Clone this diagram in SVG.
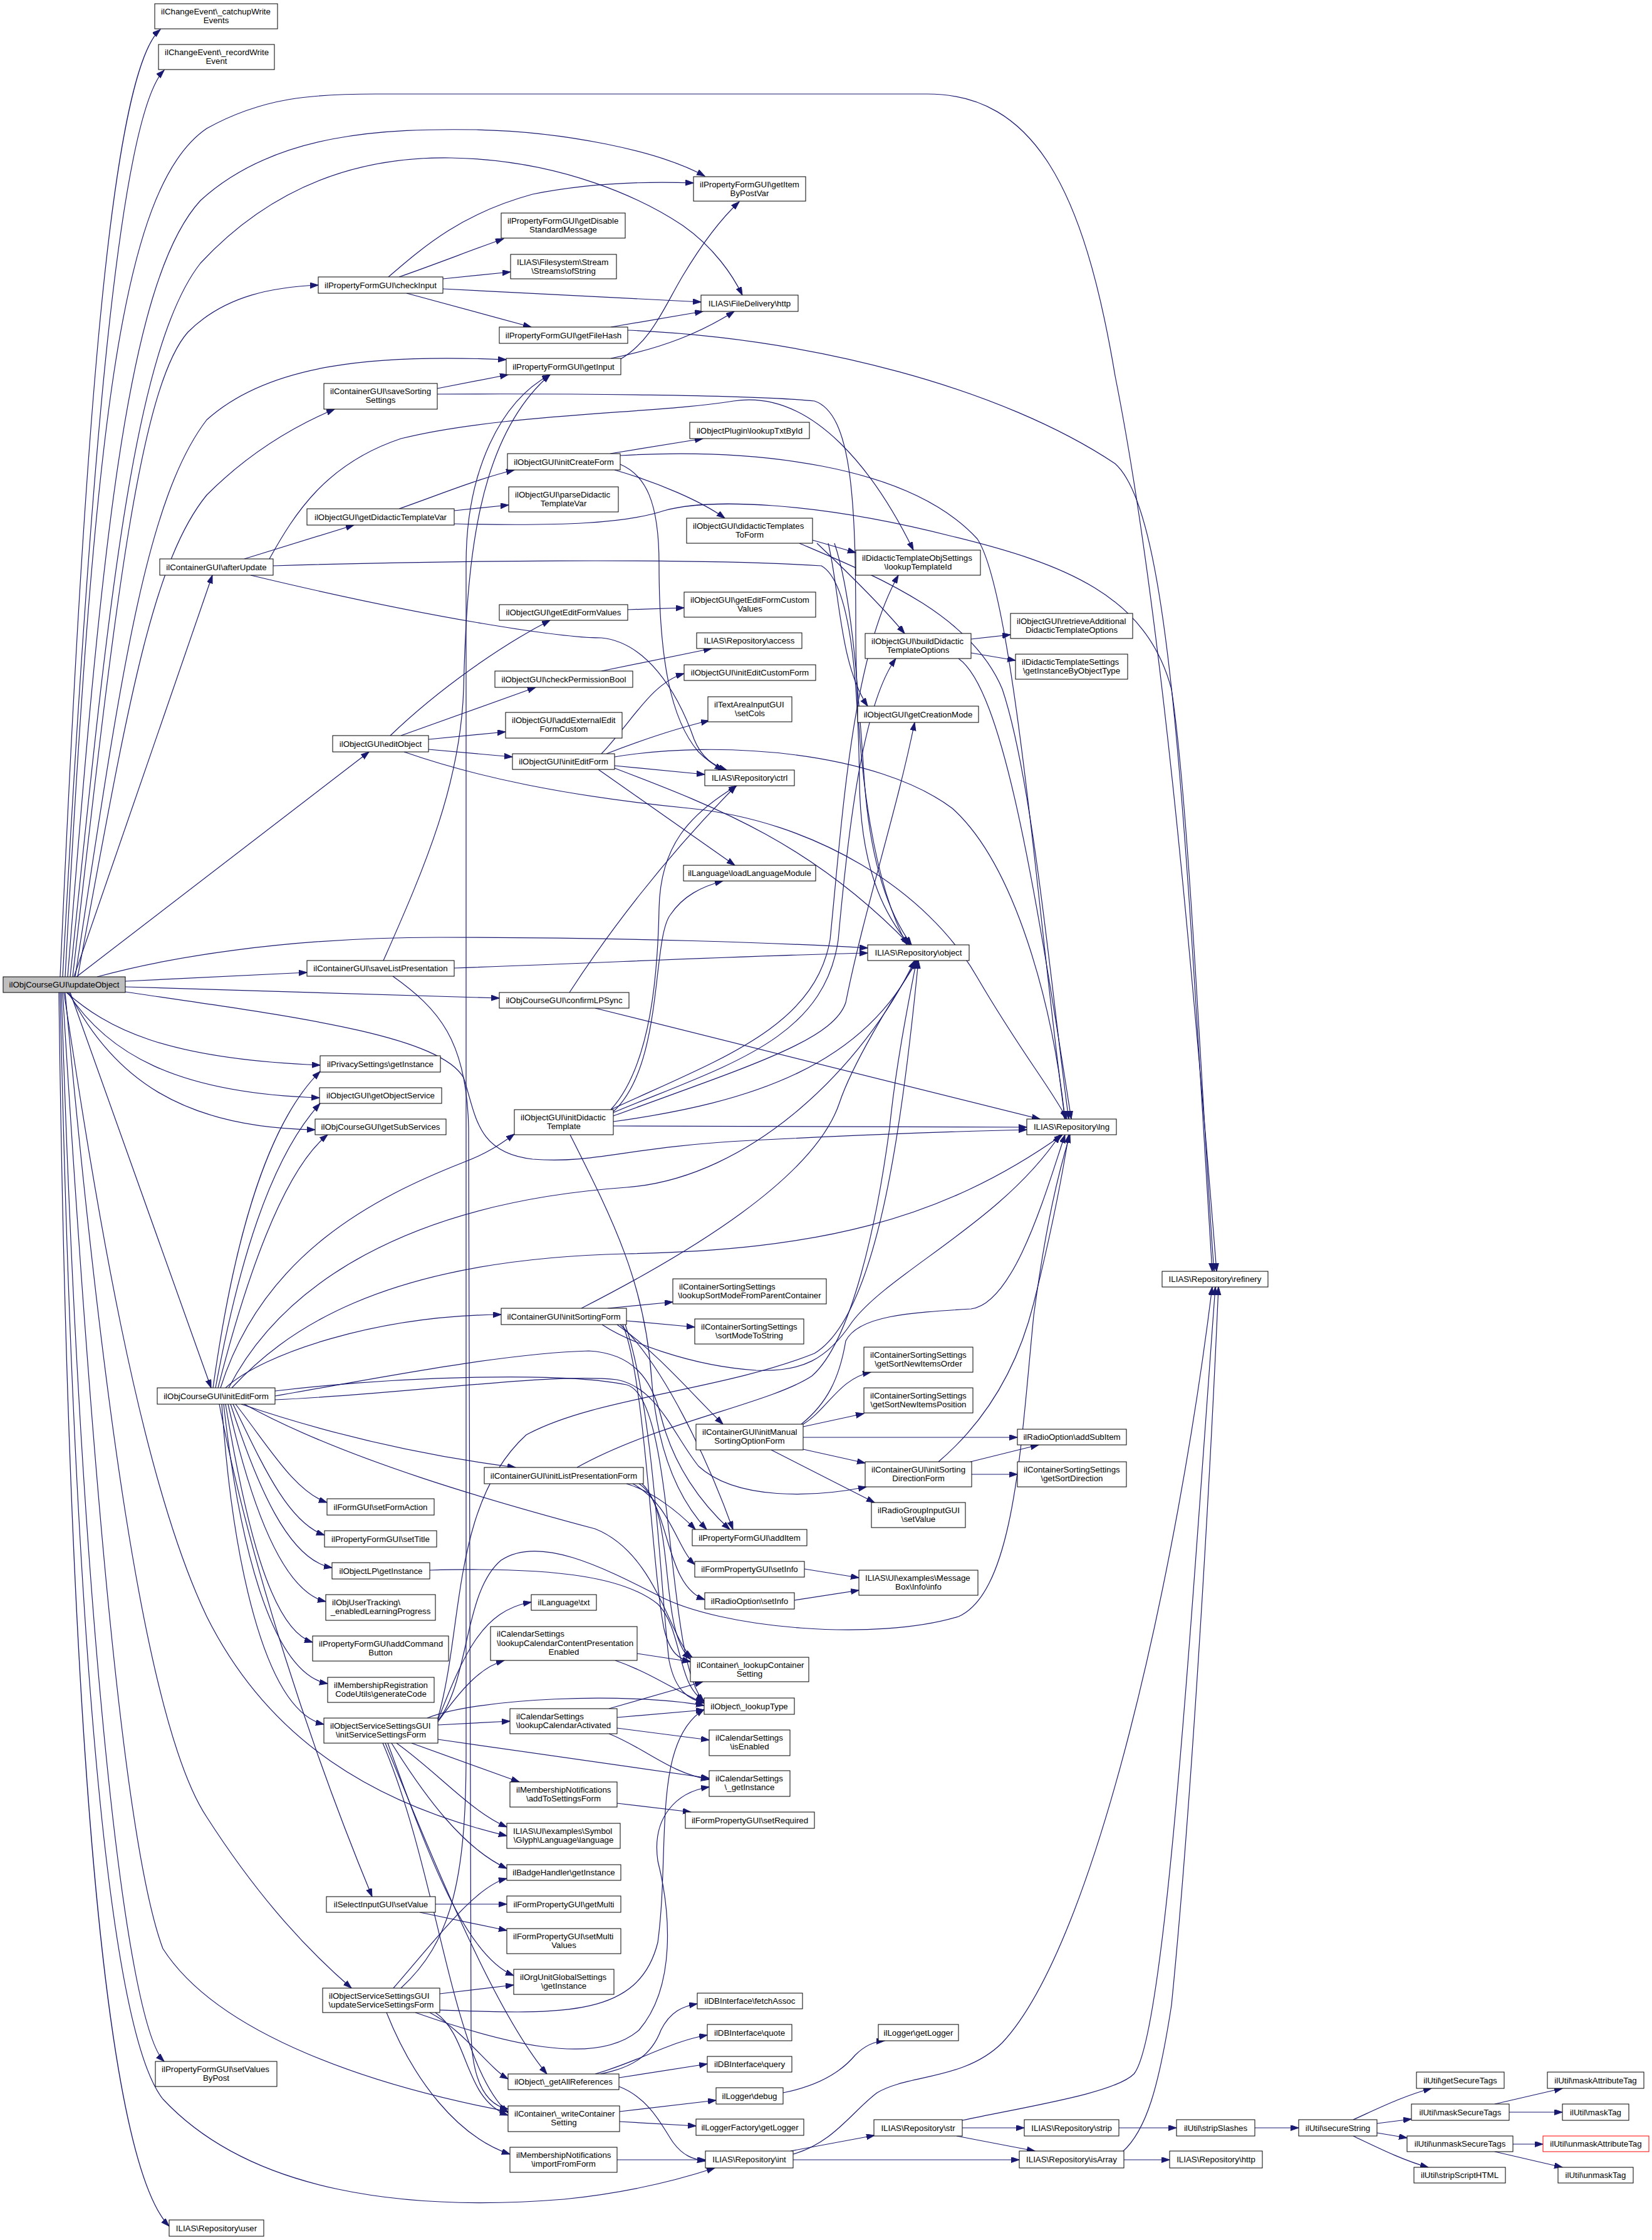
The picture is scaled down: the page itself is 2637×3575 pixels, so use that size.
<svg xmlns="http://www.w3.org/2000/svg" width="2637" height="3575" viewBox="0 0 2637 3575">
<style>
.n rect{fill:#fff;stroke:#000;stroke-width:1}
text{font-family:"Liberation Sans",Arial,Helvetica,sans-serif;font-size:13.3px;fill:#000}
.c{text-anchor:middle}
.l{text-anchor:start}
.e path{fill:none;stroke:#191970;stroke-width:1.2;marker-end:url(#a)}
</style>
<defs>
<marker id="a" markerWidth="14" markerHeight="10" refX="13" refY="4.5" orient="auto" markerUnits="userSpaceOnUse"><path d="M0,0 L13,4.5 L0,9 z" fill="#191970" stroke="#191970" stroke-width="1"/></marker>
</defs>
<rect x="0" y="0" width="2637" height="3575" fill="#fff"/>
<g id="edges" class="e">
<path d="M 96,1559 C 130,800 170,120 256,47"/>
<path d="M 100,1559 C 140,820 185,190 262,112"/>
<path d="M 104,1559 C 150,700 190,300 330,205 C 420,155 500,150 600,150 L 1480,150 C 1650,150 1730,300 1780,600 C 1850,950 1900,1500 1942,2029"/>
<path d="M 108,1559 C 160,900 200,450 320,320 C 440,210 620,205 760,207 C 900,210 1050,240 1125,281"/>
<path d="M 112,1559 C 170,1000 210,560 320,420 C 450,280 600,250 720,252 C 900,255 1030,320 1090,360 C 1140,395 1170,440 1185,471"/>
<path d="M 116,1559 C 180,1000 220,620 300,530 C 360,470 440,458 508,455"/>
<path d="M 120,1559 C 190,1100 230,800 330,670 C 430,580 600,565 808,574"/>
<path d="M 124,1559 C 200,1150 240,900 330,790 C 400,720 470,680 534,653"/>
<path d="M 118,1559 L 339,918"/>
<path d="M 122,1559 L 589,1200"/>
<path d="M 155,1559 C 260,1530 450,1496 700,1496 C 1000,1496 1250,1505 1385,1513"/>
<path d="M 200,1566 L 490,1552"/>
<path d="M 200,1575 L 797,1593"/>
<path d="M 200,1583 C 450,1620 700,1650 740,1720 C 760,1780 760,1840 850,1850 C 950,1858 1000,1830 1200,1820 C 1400,1810 1550,1805 1639,1803"/>
<path d="M 106,1584 C 170,1640 260,1690 511,1700"/>
<path d="M 108,1584 C 170,1680 280,1745 510,1752"/>
<path d="M 110,1584 C 180,1720 290,1800 503,1803"/>
<path d="M 112,1584 L 337,2215"/>
<path d="M 102,1584 C 150,1900 220,2350 330,2580 C 430,2780 600,2880 809,2930"/>
<path d="M 104,1584 C 160,2200 230,2750 330,2900 C 420,3040 500,3120 561,3173"/>
<path d="M 100,1584 C 150,2400 200,2950 260,3110 C 350,3250 600,3330 811,3370"/>
<path d="M 98,1584 C 130,2600 200,3230 262,3290"/>
<path d="M 96,1584 C 120,2700 180,3250 260,3350 C 400,3500 650,3530 900,3510 C 1000,3500 1080,3480 1141,3460"/>
<path d="M 94,1584 C 110,2800 170,3450 270,3553"/>
<path d="M 390,892 L 565,838"/>
<path d="M 430,892 C 470,820 520,740 640,700 C 800,660 1050,660 1171,640 C 1300,620 1400,760 1458,878"/>
<path d="M 436,903 C 700,895 1100,890 1311,903 C 1360,930 1370,1100 1372,1250 C 1374,1400 1420,1470 1452,1508"/>
<path d="M 400,918 C 700,990 900,1018 960,1018 C 1030,1025 1080,1100 1108,1180 C 1120,1210 1140,1222 1160,1229"/>
<path d="M 698,620 L 811,598"/>
<path d="M 698,629 C 900,628 1200,630 1300,640 C 1360,660 1366,800 1366,1000 C 1366,1250 1400,1420 1448,1508"/>
<path d="M 620,442 C 680,390 740,340 850,310 C 950,290 1050,290 1107,292"/>
<path d="M 637,442 C 700,420 750,400 804,381"/>
<path d="M 707,445 L 815,434"/>
<path d="M 707,461 L 1119,482"/>
<path d="M 649,468 L 848,522"/>
<path d="M 975,522 L 1122,497"/>
<path d="M 1002,527 C 1300,540 1600,620 1780,740 C 1870,820 1890,1300 1935,2029"/>
<path d="M 989,574 C 1040,545 1060,490 1090,440 C 1120,390 1150,350 1180,322"/>
<path d="M 975,572 C 1060,555 1120,530 1172,497"/>
<path d="M 637,812 C 700,790 760,765 821,750"/>
<path d="M 725,815 L 812,806"/>
<path d="M 725,836 C 900,840 1000,835 1060,815 C 1130,795 1300,800 1520,856 C 1700,900 1830,950 1870,1100 C 1900,1300 1920,1800 1938,2029"/>
<path d="M 974,724 L 1122,700"/>
<path d="M 981,750 C 1050,770 1120,800 1157,827"/>
<path d="M 990,727 C 1200,715 1450,740 1560,860 C 1620,950 1660,1500 1700,1786"/>
<path d="M 990,741 C 1030,758 1052,800 1052,900 C 1052,1050 1070,1148 1115,1200 C 1130,1215 1145,1224 1154,1229"/>
<path d="M 1297,862 L 1366,882"/>
<path d="M 1304,867 C 1360,920 1410,970 1444,1011"/>
<path d="M 1322,867 C 1340,940 1340,1060 1385,1127"/>
<path d="M 1332,867 C 1360,950 1370,1100 1380,1250 C 1390,1380 1420,1460 1455,1508"/>
<path d="M 1276,867 C 1400,920 1550,980 1600,1100 C 1650,1250 1680,1600 1706,1786"/>
<path d="M 1550,1020 L 1613,1013"/>
<path d="M 1550,1042 L 1621,1054"/>
<path d="M 1530,1051 C 1600,1100 1650,1400 1710,1786"/>
<path d="M 1002,973 L 1092,970"/>
<path d="M 960,1071 L 1136,1035"/>
<path d="M 623,1174 C 700,1100 800,1030 878,990"/>
<path d="M 640,1174 L 855,1097"/>
<path d="M 684,1180 L 807,1168"/>
<path d="M 684,1196 L 818,1208"/>
<path d="M 645,1200 C 760,1240 900,1270 1100,1290 C 1300,1310 1480,1420 1560,1560 C 1630,1680 1680,1740 1703,1786"/>
<path d="M 960,1203 C 1010,1150 1040,1090 1092,1075"/>
<path d="M 968,1203 C 1040,1175 1090,1160 1132,1150"/>
<path d="M 981,1222 L 1125,1236"/>
<path d="M 955,1228 L 1173,1381"/>
<path d="M 981,1226 C 1150,1290 1300,1350 1452,1508"/>
<path d="M 981,1208 C 1150,1180 1400,1200 1520,1290 C 1620,1380 1680,1600 1700,1786"/>
<path d="M 612,1533 C 680,1380 735,1250 740,1100 C 745,900 760,700 878,598"/>
<path d="M 725,1545 C 1000,1535 1200,1525 1385,1521"/>
<path d="M 627,1558 C 700,1610 745,1660 748,1800 L 752,3250 C 755,3330 780,3360 811,3366"/>
<path d="M 909,1584 C 970,1490 1060,1370 1175,1254"/>
<path d="M 950,1609 L 1660,1786"/>
<path d="M 975,1771 C 1150,1690 1300,1640 1325,1500 C 1345,1300 1360,1050 1434,918"/>
<path d="M 978,1776 C 1160,1700 1315,1660 1338,1500 C 1356,1300 1380,1120 1430,1051"/>
<path d="M 979,1781 C 1200,1700 1330,1660 1350,1600 C 1380,1450 1430,1300 1460,1153"/>
<path d="M 979,1790 C 1200,1760 1380,1700 1462,1533"/>
<path d="M 979,1797 L 1639,1799"/>
<path d="M 975,1771 C 1040,1700 1050,1550 1052,1450 C 1054,1350 1100,1300 1176,1254"/>
<path d="M 979,1774 C 1060,1700 1040,1500 1070,1460 C 1090,1430 1120,1415 1154,1406"/>
<path d="M 910,1811 C 980,1950 1030,2050 1040,2200 C 1050,2330 1090,2400 1128,2441"/>
<path d="M 340,2215 C 370,2000 420,1800 511,1710"/>
<path d="M 344,2215 C 380,2020 430,1850 511,1761"/>
<path d="M 348,2215 C 390,2050 450,1870 523,1811"/>
<path d="M 352,2215 C 420,2000 600,1910 740,1855 C 780,1840 800,1825 821,1810"/>
<path d="M 360,2215 C 420,2160 600,2100 800,2098"/>
<path d="M 370,2215 C 450,2130 600,2010 1000,2001 C 1300,1995 1500,1950 1696,1811"/>
<path d="M 365,2215 C 450,2050 650,1920 1000,1895 C 1200,1880 1380,1700 1460,1533"/>
<path d="M 385,2241 C 500,2280 650,2320 823,2342"/>
<path d="M 376,2241 C 430,2310 470,2380 522,2398"/>
<path d="M 372,2241 C 420,2340 460,2430 518,2450"/>
<path d="M 368,2241 C 410,2370 460,2490 530,2502"/>
<path d="M 364,2241 C 400,2400 450,2540 520,2556"/>
<path d="M 360,2241 C 390,2420 430,2600 499,2621"/>
<path d="M 357,2241 C 380,2450 430,2670 523,2687"/>
<path d="M 354,2241 C 370,2480 420,2730 517,2752"/>
<path d="M 350,2241 C 400,2500 500,2800 594,3027"/>
<path d="M 439,2228 C 600,2200 800,2160 940,2156 C 1010,2160 1040,2200 1055,2260 C 1075,2340 1120,2400 1165,2441"/>
<path d="M 390,2241 C 550,2330 800,2400 950,2440 C 1050,2480 1070,2620 1105,2645"/>
<path d="M 439,2220 C 650,2195 900,2190 1000,2210 C 1080,2230 1060,2650 1124,2716"/>
<path d="M 439,2234 C 650,2225 880,2190 985,2202 C 1050,2215 1075,2290 1115,2340 C 1175,2395 1300,2390 1383,2373"/>
<path d="M 970,2088 L 1074,2078"/>
<path d="M 1000,2108 L 1109,2118"/>
<path d="M 985,2114 C 1050,2160 1100,2220 1154,2273"/>
<path d="M 990,2114 C 1060,2180 1130,2330 1170,2441"/>
<path d="M 928,2088 C 1100,2000 1300,1880 1340,1760 C 1360,1700 1420,1600 1465,1533"/>
<path d="M 961,2114 C 1000,2140 1100,2180 1207,2187 C 1280,2190 1320,2170 1360,2110 C 1420,2030 1600,1950 1692,1811"/>
<path d="M 994,2114 C 1030,2200 1040,2500 1060,2600 C 1070,2640 1085,2648 1102,2652"/>
<path d="M 998,2114 C 1045,2250 1055,2550 1068,2650 C 1078,2700 1100,2712 1124,2718"/>
<path d="M 1282,2273 C 1320,2250 1340,2200 1390,2190"/>
<path d="M 1282,2277 L 1379,2256"/>
<path d="M 1282,2294 L 1624,2294"/>
<path d="M 1282,2313 L 1381,2335"/>
<path d="M 1231,2314 L 1396,2398"/>
<path d="M 1279,2273 C 1320,2240 1340,2200 1350,2140 C 1370,2100 1450,2095 1550,2089 C 1620,2080 1670,1900 1700,1811"/>
<path d="M 1549,2333 L 1658,2306"/>
<path d="M 1551,2353 L 1624,2353"/>
<path d="M 1498,2333 C 1560,2280 1620,2200 1650,2080 C 1680,1960 1695,1880 1706,1811"/>
<path d="M 1000,2368 C 1040,2380 1080,2410 1110,2441"/>
<path d="M 1010,2368 C 1070,2400 1080,2470 1109,2497"/>
<path d="M 1020,2368 C 1070,2400 1060,2530 1125,2553"/>
<path d="M 1025,2368 C 1080,2420 1050,2600 1102,2648"/>
<path d="M 921,2342 C 1050,2270 1230,2240 1296,2196 C 1360,2140 1400,1950 1420,1800 C 1430,1700 1450,1600 1463,1533"/>
<path d="M 1284,2504 L 1371,2518"/>
<path d="M 1268,2554 L 1371,2538"/>
<path d="M 699,2745 C 740,2640 770,2570 848,2557"/>
<path d="M 699,2748 C 740,2690 770,2660 805,2650"/>
<path d="M 699,2753 L 814,2747"/>
<path d="M 657,2782 L 829,2844"/>
<path d="M 633,2782 C 700,2830 750,2890 809,2916"/>
<path d="M 625,2782 C 680,2870 740,2950 809,2982"/>
<path d="M 619,2782 C 680,2950 740,3120 820,3153"/>
<path d="M 615,2782 C 700,2990 790,3210 873,3310"/>
<path d="M 611,2782 C 700,2990 720,3290 811,3372"/>
<path d="M 682,2742 C 760,2710 1000,2700 1124,2722"/>
<path d="M 699,2776 L 1132,2838"/>
<path d="M 700,2745 C 750,2680 740,2540 800,2490 C 860,2450 960,2500 1050,2546 C 1150,2600 1400,2620 1530,2580 C 1620,2540 1630,2300 1650,2100 C 1670,1950 1690,1870 1708,1811"/>
<path d="M 699,2742 C 740,2600 720,2400 840,2290 C 950,2230 1150,2220 1300,2160 C 1400,2100 1440,1800 1466,1533"/>
<path d="M 628,3173 C 700,3090 760,3010 809,2998"/>
<path d="M 640,3173 C 720,3100 744,3000 744,2800 L 744,900 C 744,750 800,640 878,598"/>
<path d="M 702,3182 L 820,3168"/>
<path d="M 686,3212 C 740,3240 780,3300 811,3318"/>
<path d="M 695,3212 C 750,3250 740,3350 811,3376"/>
<path d="M 617,3212 C 660,3320 730,3410 814,3438"/>
<path d="M 702,3208 C 900,3215 1020,3220 1050,3100 C 1070,2950 1040,2780 1124,2728"/>
<path d="M 663,3212 C 800,3260 950,3300 1020,3240 C 1080,3170 1070,3050 1050,2970 C 1040,2900 1080,2860 1132,2852"/>
<path d="M 686,2506 C 900,2500 1000,2520 1050,2560 C 1090,2600 1080,2690 1124,2714"/>
<path d="M 1017,2639 L 1102,2652"/>
<path d="M 982,2650 C 1040,2670 1080,2700 1124,2718"/>
<path d="M 972,2727 L 1122,2684"/>
<path d="M 985,2741 L 1124,2729"/>
<path d="M 985,2758 L 1132,2777"/>
<path d="M 972,2767 C 1030,2790 1070,2830 1132,2840"/>
<path d="M 985,2878 L 1103,2892"/>
<path d="M 695,3039 L 809,3039"/>
<path d="M 670,3052 L 809,3081"/>
<path d="M 958,3310 C 1010,3300 1040,3280 1055,3240 C 1070,3210 1090,3202 1113,3198"/>
<path d="M 950,3310 C 1020,3290 1070,3258 1129,3248"/>
<path d="M 988,3316 L 1129,3294"/>
<path d="M 988,3330 C 1040,3350 1060,3400 1075,3420 C 1090,3440 1105,3446 1126,3449"/>
<path d="M 989,3370 L 1143,3352"/>
<path d="M 989,3386 L 1111,3393"/>
<path d="M 985,3447 L 1126,3447"/>
<path d="M 1250,3340 C 1300,3330 1340,3310 1365,3280 C 1380,3265 1395,3258 1412,3257"/>
<path d="M 1262,3433 L 1396,3408"/>
<path d="M 1266,3447 L 1627,3447"/>
<path d="M 1266,3438 C 1330,3420 1360,3370 1400,3340 C 1450,3310 1540,3320 1600,3260 C 1750,3100 1880,2500 1935,2054"/>
<path d="M 1536,3396 L 1635,3396"/>
<path d="M 1527,3409 L 1652,3433"/>
<path d="M 1536,3384 C 1650,3360 1780,3340 1810,3310 C 1860,3250 1900,2600 1940,2054"/>
<path d="M 1794,3447 L 1867,3447"/>
<path d="M 1792,3434 C 1830,3400 1850,3330 1870,3200 C 1900,2900 1930,2400 1945,2054"/>
<path d="M 1786,3396 L 1878,3396"/>
<path d="M 2003,3396 L 2073,3396"/>
<path d="M 2160,3383 C 2200,3365 2240,3345 2285,3333"/>
<path d="M 2198,3389 L 2253,3382"/>
<path d="M 2198,3404 L 2246,3412"/>
<path d="M 2160,3409 C 2200,3428 2240,3448 2280,3459"/>
<path d="M 2386,3358 L 2494,3333"/>
<path d="M 2409,3371 L 2494,3371"/>
<path d="M 2415,3422 L 2463,3422"/>
<path d="M 2386,3434 L 2494,3459"/>
</g>
<g id="n_updateObject" class="n"><rect x="5" y="1559" width="195" height="25" style="fill:#bfbfbf"/><text class="c" x="102.5" y="1576.2">ilObjCourseGUI\updateObject</text></g>
<g id="n_catchup" class="n"><rect x="247" y="6" width="196" height="40"/><text class="l" x="257" y="22.5">ilChangeEvent\_catchupWrite</text><text class="c" x="345" y="37">Events</text></g>
<g id="n_record" class="n"><rect x="253" y="71" width="185" height="40"/><text class="l" x="263" y="87.5">ilChangeEvent\_recordWrite</text><text class="c" x="345.5" y="102">Event</text></g>
<g id="n_afterUpdate" class="n"><rect x="255" y="892" width="181" height="26"/><text class="c" x="345.5" y="909.7">ilContainerGUI\afterUpdate</text></g>
<g id="n_courseInitEditForm" class="n"><rect x="251" y="2215" width="188" height="26"/><text class="c" x="345" y="2232.7">ilObjCourseGUI\initEditForm</text></g>
<g id="n_setValuesByPost" class="n"><rect x="248" y="3290" width="194" height="40"/><text class="l" x="258" y="3306.5">ilPropertyFormGUI\setValues</text><text class="c" x="345" y="3321">ByPost</text></g>
<g id="n_user" class="n"><rect x="270" y="3543" width="151" height="26"/><text class="c" x="345.5" y="3560.7">ILIAS\Repository\user</text></g>
<g id="n_checkInput" class="n"><rect x="508" y="442" width="199" height="26"/><text class="c" x="607.5" y="459.7">ilPropertyFormGUI\checkInput</text></g>
<g id="n_saveSorting" class="n"><rect x="517" y="612" width="181" height="41"/><text class="l" x="527" y="628.5">ilContainerGUI\saveSorting</text><text class="c" x="607.5" y="643">Settings</text></g>
<g id="n_getDidacticTemplateVar" class="n"><rect x="490" y="812" width="235" height="26"/><text class="c" x="607.5" y="829.7">ilObjectGUI\getDidacticTemplateVar</text></g>
<g id="n_editObject" class="n"><rect x="531" y="1174" width="153" height="26"/><text class="c" x="607.5" y="1191.7">ilObjectGUI\editObject</text></g>
<g id="n_saveListPresentation" class="n"><rect x="490" y="1533" width="235" height="25"/><text class="c" x="607.5" y="1550.2">ilContainerGUI\saveListPresentation</text></g>
<g id="n_privacy" class="n"><rect x="511" y="1685" width="192" height="26"/><text class="c" x="607" y="1702.7">ilPrivacySettings\getInstance</text></g>
<g id="n_getObjectService" class="n"><rect x="510" y="1736" width="195" height="25"/><text class="c" x="607.5" y="1753.2">ilObjectGUI\getObjectService</text></g>
<g id="n_getSubServices" class="n"><rect x="503" y="1786" width="209" height="25"/><text class="c" x="607.5" y="1803.2">ilObjCourseGUI\getSubServices</text></g>
<g id="n_setFormAction" class="n"><rect x="522" y="2392" width="171" height="26"/><text class="c" x="607.5" y="2409.7">ilFormGUI\setFormAction</text></g>
<g id="n_setTitle" class="n"><rect x="518" y="2443" width="179" height="26"/><text class="c" x="607.5" y="2460.7">ilPropertyFormGUI\setTitle</text></g>
<g id="n_objectLP" class="n"><rect x="530" y="2494" width="156" height="26"/><text class="c" x="608" y="2511.7">ilObjectLP\getInstance</text></g>
<g id="n_userTracking" class="n"><rect x="520" y="2545" width="175" height="41"/><text class="l" x="530" y="2561.5">ilObjUserTracking\</text><text class="c" x="607.5" y="2576">_enabledLearningProgress</text></g>
<g id="n_addCommandButton" class="n"><rect x="499" y="2611" width="217" height="40"/><text class="l" x="509" y="2627.5">ilPropertyFormGUI\addCommand</text><text class="c" x="607.5" y="2642">Button</text></g>
<g id="n_generateCode" class="n"><rect x="523" y="2677" width="170" height="40"/><text class="l" x="533" y="2693.5">ilMembershipRegistration</text><text class="c" x="608" y="2708">CodeUtils\generateCode</text></g>
<g id="n_initServiceSettingsForm" class="n"><rect x="517" y="2742" width="182" height="40"/><text class="l" x="527" y="2758.5">ilObjectServiceSettingsGUI</text><text class="c" x="608" y="2773">\initServiceSettingsForm</text></g>
<g id="n_selectSetValue" class="n"><rect x="521" y="3027" width="174" height="25"/><text class="c" x="608" y="3044.2">ilSelectInputGUI\setValue</text></g>
<g id="n_updateServiceSettingsForm" class="n"><rect x="515" y="3173" width="187" height="39"/><text class="l" x="525" y="3189.5">ilObjectServiceSettingsGUI</text><text class="c" x="608.5" y="3204">\updateServiceSettingsForm</text></g>
<g id="n_getDisable" class="n"><rect x="800" y="340" width="198" height="40"/><text class="l" x="810" y="356.5">ilPropertyFormGUI\getDisable</text><text class="c" x="899" y="371">StandardMessage</text></g>
<g id="n_ofString" class="n"><rect x="815" y="406" width="169" height="39"/><text class="l" x="825" y="422.5">ILIAS\Filesystem\Stream</text><text class="c" x="899.5" y="437">\Streams\ofString</text></g>
<g id="n_getFileHash" class="n"><rect x="797" y="522" width="205" height="26"/><text class="c" x="899.5" y="539.7">ilPropertyFormGUI\getFileHash</text></g>
<g id="n_getInput" class="n"><rect x="808" y="572" width="183" height="26"/><text class="c" x="899.5" y="589.7">ilPropertyFormGUI\getInput</text></g>
<g id="n_initCreateForm" class="n"><rect x="810" y="724" width="180" height="26"/><text class="c" x="900" y="741.7">ilObjectGUI\initCreateForm</text></g>
<g id="n_parseDidactic" class="n"><rect x="812" y="777" width="175" height="40"/><text class="l" x="822" y="793.5">ilObjectGUI\parseDidactic</text><text class="c" x="899.5" y="808">TemplateVar</text></g>
<g id="n_getEditFormValues" class="n"><rect x="797" y="965" width="205" height="25"/><text class="c" x="899.5" y="982.2">ilObjectGUI\getEditFormValues</text></g>
<g id="n_checkPermissionBool" class="n"><rect x="790" y="1071" width="220" height="26"/><text class="c" x="900" y="1088.7">ilObjectGUI\checkPermissionBool</text></g>
<g id="n_addExternal" class="n"><rect x="807" y="1137" width="186" height="41"/><text class="l" x="817" y="1153.5">ilObjectGUI\addExternalEdit</text><text class="c" x="900" y="1168">FormCustom</text></g>
<g id="n_objInitEditForm" class="n"><rect x="818" y="1203" width="163" height="25"/><text class="c" x="899.5" y="1220.2">ilObjectGUI\initEditForm</text></g>
<g id="n_confirmLPSync" class="n"><rect x="797" y="1584" width="207" height="25"/><text class="c" x="900.5" y="1601.2">ilObjCourseGUI\confirmLPSync</text></g>
<g id="n_initDidacticTemplate" class="n"><rect x="821" y="1771" width="158" height="40"/><text class="l" x="831" y="1787.5">ilObjectGUI\initDidactic</text><text class="c" x="900" y="1802">Template</text></g>
<g id="n_initSortingForm" class="n"><rect x="800" y="2088" width="200" height="26"/><text class="c" x="900" y="2105.7">ilContainerGUI\initSortingForm</text></g>
<g id="n_initListPresentationForm" class="n"><rect x="773" y="2342" width="254" height="26"/><text class="c" x="900" y="2359.7">ilContainerGUI\initListPresentationForm</text></g>
<g id="n_txt" class="n"><rect x="848" y="2545" width="104" height="25"/><text class="c" x="900" y="2562.2">ilLanguage\txt</text></g>
<g id="n_lookupCalContent" class="n"><rect x="783" y="2596" width="234" height="54"/><text class="l" x="793" y="2612.4">ilCalendarSettings</text><text class="l" x="793" y="2627">\lookupCalendarContentPresentation</text><text class="c" x="900" y="2641.4">Enabled</text></g>
<g id="n_lookupCalActivated" class="n"><rect x="814" y="2727" width="171" height="40"/><text class="l" x="824" y="2743.5">ilCalendarSettings</text><text class="c" x="899.5" y="2758">\lookupCalendarActivated</text></g>
<g id="n_addToSettingsForm" class="n"><rect x="814" y="2844" width="171" height="40"/><text class="l" x="824" y="2860.5">ilMembershipNotifications</text><text class="c" x="899.5" y="2875">\addToSettingsForm</text></g>
<g id="n_glyphLanguage" class="n"><rect x="809" y="2910" width="181" height="40"/><text class="l" x="819" y="2926.5">ILIAS\UI\examples\Symbol</text><text class="c" x="899.5" y="2941">\Glyph\Language\language</text></g>
<g id="n_badge" class="n"><rect x="809" y="2976" width="182" height="25"/><text class="c" x="900" y="2993.2">ilBadgeHandler\getInstance</text></g>
<g id="n_getMulti" class="n"><rect x="809" y="3026" width="182" height="26"/><text class="c" x="900" y="3043.7">ilFormPropertyGUI\getMulti</text></g>
<g id="n_setMultiValues" class="n"><rect x="809" y="3078" width="182" height="40"/><text class="l" x="819" y="3094.5">ilFormPropertyGUI\setMulti</text><text class="c" x="900" y="3109">Values</text></g>
<g id="n_orgUnit" class="n"><rect x="820" y="3143" width="160" height="40"/><text class="l" x="830" y="3159.5">ilOrgUnitGlobalSettings</text><text class="c" x="900" y="3174">\getInstance</text></g>
<g id="n_getAllReferences" class="n"><rect x="811" y="3310" width="177" height="25"/><text class="c" x="899.5" y="3327.2">ilObject\_getAllReferences</text></g>
<g id="n_writeContainerSetting" class="n"><rect x="811" y="3361" width="178" height="41"/><text class="l" x="821" y="3377.5">ilContainer\_writeContainer</text><text class="c" x="900" y="3392">Setting</text></g>
<g id="n_importFromForm" class="n"><rect x="814" y="3427" width="171" height="40"/><text class="l" x="824" y="3443.5">ilMembershipNotifications</text><text class="c" x="899.5" y="3458">\importFromForm</text></g>
<g id="n_getItemByPostVar" class="n"><rect x="1107" y="282" width="179" height="39"/><text class="l" x="1117" y="298.5">ilPropertyFormGUI\getItem</text><text class="c" x="1196.5" y="313">ByPostVar</text></g>
<g id="n_fileDeliveryHttp" class="n"><rect x="1119" y="471" width="155" height="26"/><text class="c" x="1196.5" y="488.7">ILIAS\FileDelivery\http</text></g>
<g id="n_lookupTxtById" class="n"><rect x="1101" y="674" width="191" height="26"/><text class="c" x="1196.5" y="691.7">ilObjectPlugin\lookupTxtById</text></g>
<g id="n_didacticTemplatesToForm" class="n"><rect x="1096" y="827" width="201" height="40"/><text class="l" x="1106" y="843.5">ilObjectGUI\didacticTemplates</text><text class="c" x="1196.5" y="858">ToForm</text></g>
<g id="n_getEditFormCustomValues" class="n"><rect x="1092" y="945" width="210" height="40"/><text class="l" x="1102" y="961.5">ilObjectGUI\getEditFormCustom</text><text class="c" x="1197" y="976">Values</text></g>
<g id="n_access" class="n"><rect x="1112" y="1010" width="168" height="25"/><text class="c" x="1196" y="1027.2">ILIAS\Repository\access</text></g>
<g id="n_initEditCustomForm" class="n"><rect x="1092" y="1061" width="210" height="25"/><text class="c" x="1197" y="1078.2">ilObjectGUI\initEditCustomForm</text></g>
<g id="n_setCols" class="n"><rect x="1130" y="1112" width="134" height="40"/><text class="l" x="1140" y="1128.5">ilTextAreaInputGUI</text><text class="c" x="1197" y="1143">\setCols</text></g>
<g id="n_ctrl" class="n"><rect x="1125" y="1229" width="143" height="25"/><text class="c" x="1196.5" y="1246.2">ILIAS\Repository\ctrl</text></g>
<g id="n_loadLanguageModule" class="n"><rect x="1091" y="1381" width="211" height="25"/><text class="c" x="1196.5" y="1398.2">ilLanguage\loadLanguageModule</text></g>
<g id="n_lookupSortMode" class="n"><rect x="1074" y="2041" width="245" height="40"/><text class="l" x="1084" y="2057.5">ilContainerSortingSettings</text><text class="c" x="1196.5" y="2072">\lookupSortModeFromParentContainer</text></g>
<g id="n_sortModeToString" class="n"><rect x="1109" y="2105" width="174" height="40"/><text class="l" x="1119" y="2121.5">ilContainerSortingSettings</text><text class="c" x="1196" y="2136">\sortModeToString</text></g>
<g id="n_initManual" class="n"><rect x="1111" y="2273" width="171" height="41"/><text class="l" x="1121" y="2289.5">ilContainerGUI\initManual</text><text class="c" x="1196.5" y="2304">SortingOptionForm</text></g>
<g id="n_addItem" class="n"><rect x="1105" y="2441" width="183" height="26"/><text class="c" x="1196.5" y="2458.7">ilPropertyFormGUI\addItem</text></g>
<g id="n_setInfo" class="n"><rect x="1109" y="2492" width="175" height="25"/><text class="c" x="1196.5" y="2509.2">ilFormPropertyGUI\setInfo</text></g>
<g id="n_radioSetInfo" class="n"><rect x="1125" y="2542" width="143" height="26"/><text class="c" x="1196.5" y="2559.7">ilRadioOption\setInfo</text></g>
<g id="n_lookupContainerSetting" class="n"><rect x="1102" y="2645" width="189" height="39"/><text class="l" x="1112" y="2661.5">ilContainer\_lookupContainer</text><text class="c" x="1196.5" y="2676">Setting</text></g>
<g id="n_lookupType" class="n"><rect x="1124" y="2710" width="144" height="26"/><text class="c" x="1196" y="2727.7">ilObject\_lookupType</text></g>
<g id="n_isEnabled" class="n"><rect x="1132" y="2761" width="129" height="41"/><text class="l" x="1142" y="2777.5">ilCalendarSettings</text><text class="c" x="1196.5" y="2792">\isEnabled</text></g>
<g id="n_calGetInstance" class="n"><rect x="1132" y="2826" width="129" height="41"/><text class="l" x="1142" y="2842.5">ilCalendarSettings</text><text class="c" x="1196.5" y="2857">\_getInstance</text></g>
<g id="n_setRequired" class="n"><rect x="1094" y="2892" width="206" height="26"/><text class="c" x="1197" y="2909.7">ilFormPropertyGUI\setRequired</text></g>
<g id="n_fetchAssoc" class="n"><rect x="1113" y="3181" width="168" height="25"/><text class="c" x="1197" y="3198.2">ilDBInterface\fetchAssoc</text></g>
<g id="n_quote" class="n"><rect x="1129" y="3231" width="135" height="26"/><text class="c" x="1196.5" y="3248.7">ilDBInterface\quote</text></g>
<g id="n_query" class="n"><rect x="1129" y="3282" width="135" height="25"/><text class="c" x="1196.5" y="3299.2">ilDBInterface\query</text></g>
<g id="n_debug" class="n"><rect x="1143" y="3332" width="107" height="26"/><text class="c" x="1196.5" y="3349.7">ilLogger\debug</text></g>
<g id="n_loggerFactory" class="n"><rect x="1111" y="3382" width="172" height="26"/><text class="c" x="1197" y="3399.7">ilLoggerFactory\getLogger</text></g>
<g id="n_int" class="n"><rect x="1126" y="3433" width="140" height="27"/><text class="c" x="1196" y="3451">ILIAS\Repository\int</text></g>
<g id="n_lookupTemplateId" class="n"><rect x="1366" y="878" width="199" height="40"/><text class="l" x="1376" y="894.5">ilDidacticTemplateObjSettings</text><text class="c" x="1465.5" y="909">\lookupTemplateId</text></g>
<g id="n_buildDidactic" class="n"><rect x="1381" y="1011" width="169" height="40"/><text class="l" x="1391" y="1027.5">ilObjectGUI\buildDidactic</text><text class="c" x="1465.5" y="1042">TemplateOptions</text></g>
<g id="n_getCreationMode" class="n"><rect x="1369" y="1127" width="193" height="26"/><text class="c" x="1465.5" y="1144.7">ilObjectGUI\getCreationMode</text></g>
<g id="n_object" class="n"><rect x="1385" y="1508" width="162" height="25"/><text class="c" x="1466" y="1525.2">ILIAS\Repository\object</text></g>
<g id="n_getSortNewItemsOrder" class="n"><rect x="1379" y="2150" width="174" height="40"/><text class="l" x="1389" y="2166.5">ilContainerSortingSettings</text><text class="c" x="1466" y="2181">\getSortNewItemsOrder</text></g>
<g id="n_getSortNewItemsPosition" class="n"><rect x="1379" y="2215" width="174" height="40"/><text class="l" x="1389" y="2231.5">ilContainerSortingSettings</text><text class="c" x="1466" y="2246">\getSortNewItemsPosition</text></g>
<g id="n_initSortingDirection" class="n"><rect x="1381" y="2333" width="170" height="40"/><text class="l" x="1391" y="2349.5">ilContainerGUI\initSorting</text><text class="c" x="1466" y="2364">DirectionForm</text></g>
<g id="n_radioGroupSetValue" class="n"><rect x="1391" y="2398" width="150" height="40"/><text class="l" x="1401" y="2414.5">ilRadioGroupInputGUI</text><text class="c" x="1466" y="2429">\setValue</text></g>
<g id="n_messageBox" class="n"><rect x="1371" y="2506" width="190" height="40"/><text class="l" x="1381" y="2522.5">ILIAS\UI\examples\Message</text><text class="c" x="1466" y="2537">Box\Info\info</text></g>
<g id="n_loggerGetLogger" class="n"><rect x="1402" y="3231" width="128" height="26"/><text class="c" x="1466" y="3248.7">ilLogger\getLogger</text></g>
<g id="n_str" class="n"><rect x="1395" y="3383" width="141" height="26"/><text class="c" x="1465.5" y="3400.7">ILIAS\Repository\str</text></g>
<g id="n_retrieveAdditional" class="n"><rect x="1613" y="979" width="195" height="40"/><text class="l" x="1623" y="995.5">ilObjectGUI\retrieveAdditional</text><text class="c" x="1710.5" y="1010">DidacticTemplateOptions</text></g>
<g id="n_getInstanceByObjectType" class="n"><rect x="1621" y="1044" width="179" height="40"/><text class="l" x="1631" y="1060.5">ilDidacticTemplateSettings</text><text class="c" x="1710.5" y="1075">\getInstanceByObjectType</text></g>
<g id="n_lng" class="n"><rect x="1639" y="1786" width="143" height="25"/><text class="c" x="1710.5" y="1803.2">ILIAS\Repository\lng</text></g>
<g id="n_addSubItem" class="n"><rect x="1624" y="2281" width="174" height="25"/><text class="c" x="1711" y="2298.2">ilRadioOption\addSubItem</text></g>
<g id="n_getSortDirection" class="n"><rect x="1624" y="2333" width="174" height="40"/><text class="l" x="1634" y="2349.5">ilContainerSortingSettings</text><text class="c" x="1711" y="2364">\getSortDirection</text></g>
<g id="n_strip" class="n"><rect x="1635" y="3383" width="151" height="26"/><text class="c" x="1710.5" y="3400.7">ILIAS\Repository\strip</text></g>
<g id="n_isArray" class="n"><rect x="1627" y="3433" width="167" height="27"/><text class="c" x="1710.5" y="3451">ILIAS\Repository\isArray</text></g>
<g id="n_refinery" class="n"><rect x="1855" y="2029" width="169" height="25"/><text class="c" x="1939.5" y="2046.2">ILIAS\Repository\refinery</text></g>
<g id="n_stripSlashes" class="n"><rect x="1878" y="3383" width="125" height="26"/><text class="c" x="1940.5" y="3400.7">ilUtil\stripSlashes</text></g>
<g id="n_repoHttp" class="n"><rect x="1867" y="3433" width="148" height="27"/><text class="c" x="1941" y="3451">ILIAS\Repository\http</text></g>
<g id="n_secureString" class="n"><rect x="2073" y="3383" width="125" height="26"/><text class="c" x="2135.5" y="3400.7">ilUtil\secureString</text></g>
<g id="n_getSecureTags" class="n"><rect x="2261" y="3307" width="140" height="26"/><text class="c" x="2331" y="3324.7">ilUtil\getSecureTags</text></g>
<g id="n_maskSecureTags" class="n"><rect x="2253" y="3358" width="156" height="26"/><text class="c" x="2331" y="3375.7">ilUtil\maskSecureTags</text></g>
<g id="n_unmaskSecureTags" class="n"><rect x="2246" y="3409" width="169" height="25"/><text class="c" x="2330.5" y="3426.2">ilUtil\unmaskSecureTags</text></g>
<g id="n_stripScriptHTML" class="n"><rect x="2257" y="3459" width="146" height="25"/><text class="c" x="2330" y="3476.2">ilUtil\stripScriptHTML</text></g>
<g id="n_maskAttributeTag" class="n"><rect x="2470" y="3307" width="154" height="26"/><text class="c" x="2547" y="3324.7">ilUtil\maskAttributeTag</text></g>
<g id="n_maskTag" class="n"><rect x="2494" y="3358" width="106" height="26"/><text class="c" x="2547" y="3375.7">ilUtil\maskTag</text></g>
<g id="n_unmaskAttributeTag" class="n"><rect x="2463" y="3409" width="169" height="25" style="stroke:#ff0000"/><text class="c" x="2547.5" y="3426.2">ilUtil\unmaskAttributeTag</text></g>
<g id="n_unmaskTag" class="n"><rect x="2487" y="3459" width="120" height="25"/><text class="c" x="2547" y="3476.2">ilUtil\unmaskTag</text></g>
</svg>
